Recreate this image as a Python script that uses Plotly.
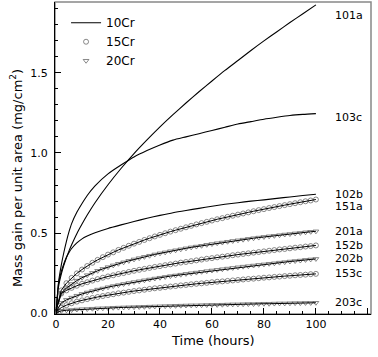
import plotly.graph_objects as go

# ---------------- data ----------------
T_MARK = list(range(0, 101, 2))

S151A = [0.02, 0.144, 0.189, 0.222, 0.250, 0.274, 0.296, 0.316, 0.334, 0.351, 0.367,
         0.381, 0.396, 0.409, 0.422, 0.435, 0.446, 0.458, 0.469, 0.480, 0.490,
         0.500, 0.510, 0.519, 0.528, 0.537, 0.546, 0.555, 0.563, 0.571, 0.579,
         0.587, 0.594, 0.602, 0.609, 0.616, 0.623, 0.630, 0.637, 0.644, 0.650,
         0.657, 0.663, 0.669, 0.675, 0.681, 0.687, 0.693, 0.699, 0.704, 0.710]
S201A = [0.02, 0.126, 0.159, 0.184, 0.205, 0.223, 0.239, 0.253, 0.266, 0.278, 0.289,
         0.300, 0.310, 0.319, 0.328, 0.337, 0.345, 0.353, 0.360, 0.368, 0.375,
         0.381, 0.388, 0.394, 0.400, 0.406, 0.412, 0.417, 0.422, 0.428, 0.433,
         0.438, 0.442, 0.447, 0.452, 0.456, 0.460, 0.465, 0.469, 0.473, 0.477,
         0.481, 0.484, 0.488, 0.492, 0.495, 0.499, 0.502, 0.506, 0.509, 0.512]
S152B = [0.02, 0.124, 0.144, 0.160, 0.173, 0.185, 0.195, 0.205, 0.214, 0.223, 0.231,
         0.238, 0.246, 0.252, 0.259, 0.266, 0.272, 0.278, 0.284, 0.290, 0.295,
         0.301, 0.306, 0.311, 0.317, 0.321, 0.326, 0.331, 0.336, 0.341, 0.345,
         0.350, 0.354, 0.358, 0.363, 0.367, 0.371, 0.375, 0.379, 0.383, 0.387,
         0.391, 0.395, 0.399, 0.402, 0.406, 0.410, 0.413, 0.417, 0.420, 0.424]
S202B = [0.01, 0.066, 0.085, 0.099, 0.111, 0.122, 0.131, 0.140, 0.149, 0.156, 0.164,
         0.171, 0.177, 0.184, 0.190, 0.196, 0.201, 0.207, 0.212, 0.218, 0.223,
         0.228, 0.233, 0.237, 0.242, 0.247, 0.251, 0.255, 0.260, 0.264, 0.268,
         0.272, 0.276, 0.280, 0.284, 0.288, 0.292, 0.295, 0.299, 0.303, 0.306,
         0.310, 0.313, 0.317, 0.320, 0.324, 0.327, 0.330, 0.334, 0.337, 0.340]
S153C = [0.01, 0.037, 0.052, 0.064, 0.074, 0.082, 0.090, 0.097, 0.103, 0.109, 0.115,
         0.120, 0.126, 0.130, 0.135, 0.140, 0.144, 0.148, 0.153, 0.157, 0.160,
         0.164, 0.168, 0.171, 0.175, 0.178, 0.182, 0.185, 0.188, 0.191, 0.195,
         0.198, 0.200, 0.203, 0.206, 0.209, 0.212, 0.215, 0.217, 0.220, 0.223,
         0.225, 0.228, 0.230, 0.233, 0.235, 0.238, 0.240, 0.242, 0.245, 0.247]
S203C = [0.005, 0.016, 0.020, 0.022, 0.025, 0.027, 0.028, 0.030, 0.032, 0.033, 0.034,
         0.036, 0.037, 0.038, 0.039, 0.040, 0.041, 0.042, 0.043, 0.044, 0.045,
         0.046, 0.047, 0.048, 0.049, 0.050, 0.051, 0.051, 0.052, 0.053, 0.054,
         0.054, 0.055, 0.056, 0.057, 0.057, 0.058, 0.059, 0.059, 0.060, 0.061,
         0.061, 0.062, 0.063, 0.063, 0.064, 0.065, 0.065, 0.066, 0.066, 0.067]

T_LINE = [0, 1, 2, 3, 4, 5, 6, 8, 10, 12, 15, 20, 25, 30, 35, 40, 45, 50,
          55, 60, 65, 70, 75, 80, 85, 90, 95, 100]
S101A = [0.0, 0.171, 0.244, 0.300, 0.347, 0.390, 0.428, 0.497, 0.557, 0.613, 0.690,
         0.802, 0.903, 0.996, 1.081, 1.162, 1.238, 1.311, 1.381, 1.448, 1.514,
         1.576, 1.638, 1.698, 1.755, 1.812, 1.867, 1.922]
S103C = [0.0, 0.20, 0.30, 0.38, 0.45, 0.51, 0.56, 0.63, 0.685, 0.735, 0.795,
         0.87, 0.925, 0.975, 1.015, 1.05, 1.08, 1.10, 1.12, 1.14, 1.16,
         1.18, 1.195, 1.21, 1.222, 1.233, 1.24, 1.245]
S102B = [0.0, 0.19, 0.26, 0.31, 0.35, 0.38, 0.405, 0.44, 0.465, 0.482, 0.503,
         0.53, 0.552, 0.573, 0.593, 0.611, 0.628, 0.642, 0.655, 0.668, 0.68,
         0.69, 0.70, 0.708, 0.717, 0.726, 0.735, 0.743]

LABELS = ["101a", "103c", "102b", "151a", "201a", "152b", "202b", "153c", "203c"]
LABEL_Y = [1.858, 1.22, 0.743, 0.669, 0.508, 0.421, 0.341, 0.248, 0.068]
LABEL_X = 106.5

X_TICKS = [0, 20, 40, 60, 80, 100, 120]
Y_TICKS = [0.0, 0.5, 1.0, 1.5]
Y_TICKTEXT = ["0.0", "0.5", "1.0", "1.5"]

FONT = "DejaVu Sans"
MARK_COLOR = "#6a6a6a"

fig = go.Figure()

# 10Cr solid lines
for i, ys in enumerate([S101A, S103C, S102B]):
    fig.add_trace(go.Scatter(
        x=T_LINE, y=ys, mode="lines", line=dict(color="black", width=1.1, shape="spline", smoothing=0.6),
        name="10Cr", legendgroup="10Cr", showlegend=(i == 0)))

# 15Cr (circles) and 20Cr (triangles) with fit lines
series = [(S151A, "15Cr", "circle-open"), (S201A, "20Cr", "triangle-down-open"),
          (S152B, "15Cr", "circle-open"), (S202B, "20Cr", "triangle-down-open"),
          (S153C, "15Cr", "circle-open"), (S203C, "20Cr", "triangle-down-open")]
shown = set()
for ys, grp, sym in series:
    fig.add_trace(go.Scatter(
        x=T_MARK, y=ys, mode="markers",
        marker=dict(symbol=sym, size=5, color=MARK_COLOR, line=dict(width=0.8, color=MARK_COLOR)),
        name=grp, legendgroup=grp, showlegend=(grp not in shown)))
    shown.add(grp)
for ys, grp, sym in series:
    fig.add_trace(go.Scatter(
        x=T_MARK, y=ys, mode="lines", line=dict(color="black", width=1.0),
        showlegend=False, hoverinfo="skip"))

for lab, ly in zip(LABELS, LABEL_Y):
    fig.add_annotation(x=LABEL_X, y=ly, xref="x", yref="y", text=lab, showarrow=False,
                       xanchor="left", yanchor="middle", font=dict(family=FONT, size=11, color="black"))

# axis titles as annotations
fig.add_annotation(x=-0.123, y=0.436, xref="paper", yref="paper",
                   text="Mass gain per unit area (mg/cm<sup>2</sup>)", textangle=-90,
                   showarrow=False, xanchor="center", yanchor="middle",
                   font=dict(family=FONT, size=13, color="black"))
fig.add_annotation(x=0.5, y=-0.085, xref="paper", yref="paper",
                   text="Time (hours)", showarrow=False, xanchor="center", yanchor="middle",
                   font=dict(family=FONT, size=13, color="black"))

# frame
fig.add_shape(type="rect", xref="paper", yref="paper", x0=0, y0=0, x1=1, y1=1,
              line=dict(color="#888888", width=1.5), layer="below")

fig.update_layout(
    width=378, height=357,
    margin=dict(l=55, r=7, t=2, b=43),
    paper_bgcolor="white", plot_bgcolor="white",
    font=dict(family=FONT, size=11, color="black"),
    showlegend=True, hovermode=False,
    legend=dict(x=0.035, y=0.98, xanchor="left", yanchor="top",
                bgcolor="rgba(0,0,0,0)", font=dict(family=FONT, size=12),
                itemwidth=30, tracegroupgap=0),
    xaxis=dict(range=[-0.4, 121.2], tickvals=X_TICKS, ticks="inside", ticklen=6,
               tickcolor="black", showline=True, linecolor="black", linewidth=1,
               showgrid=False, zeroline=False, automargin=False,
               minor=dict(dtick=5, tick0=0, ticks="inside", ticklen=3, tickcolor="black", showgrid=False),
               tickfont=dict(family=FONT, size=11)),
    yaxis=dict(range=[-0.003, 1.94], tickvals=Y_TICKS, ticktext=Y_TICKTEXT,
               ticks="inside", ticklen=6, tickcolor="black",
               showline=True, linecolor="black", linewidth=1,
               showgrid=False, zeroline=False, ticklabelstandoff=4, automargin=False,
               minor=dict(dtick=0.1, tick0=0, ticks="inside", ticklen=3, tickcolor="black", showgrid=False),
               tickfont=dict(family=FONT, size=11)),
)

fig.write_html("out.html", config={"displayModeBar": False},
               post_script="document.body.style.margin='0';")
